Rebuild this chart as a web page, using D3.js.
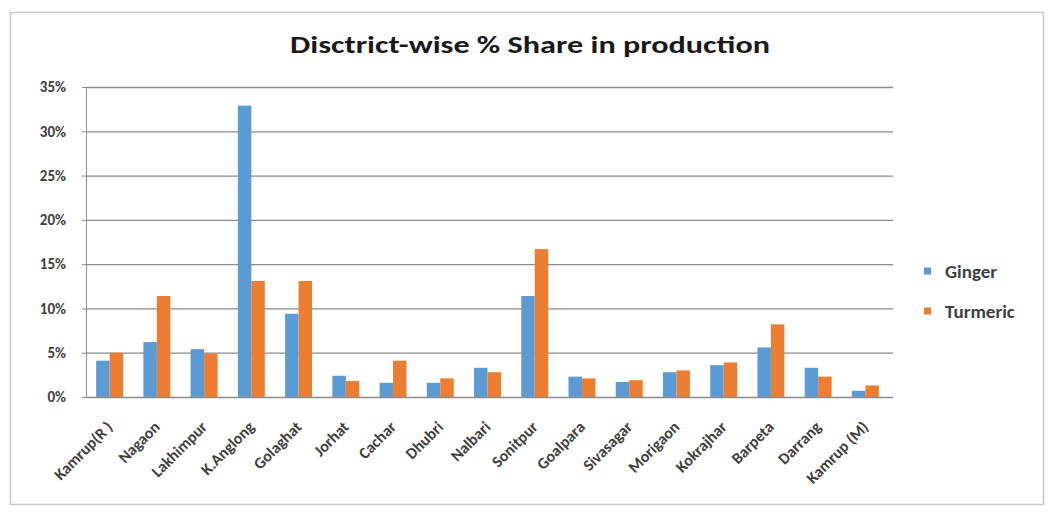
<!DOCTYPE html>
<html><head><meta charset="utf-8">
<script src="https://cdn.jsdelivr.net/npm/d3@7"></script>
<style>body{margin:0;background:#fff}svg{display:block}</style>
</head><body><svg id="c" width="1051" height="512"></svg>
<script>
const categories = ["Kamrup(R )","Nagaon","Lakhimpur","K.Anglong","Golaghat","Jorhat","Cachar","Dhubri","Nalbari","Sonitpur","Goalpara","Sivasagar","Morigaon","Kokrajhar","Barpeta","Darrang","Kamrup (M)"];
const ginger   = [4.1, 6.2, 5.4, 32.9, 9.4, 2.4, 1.6, 1.6, 3.3, 11.4, 2.3, 1.7, 2.8, 3.6, 5.6, 3.3, 0.7];
const turmeric = [5.0, 11.4, 4.9, 13.1, 13.1, 1.8, 4.1, 2.1, 2.8, 16.7, 2.1, 1.9, 3.0, 3.9, 8.2, 2.3, 1.3];
const seriesNames = ["Ginger","Turmeric"];
const colors = ["#5B9BD5","#ED7D31"];
const yTicks = [0,5,10,15,20,25,30,35];
const title = "Disctrict-wise % Share in production";

const svg = d3.select("#c");
const font = "Carlito, Calibri, Lato, sans-serif";
svg.append("rect").attr("x",10.5).attr("y",12.5).attr("width",1033).attr("height",492)
  .attr("fill","#fff").attr("stroke","#c8c8c8").attr("stroke-width",1.5);

const m = {l:86, r:889, t:87, b:397};
const x = d3.scaleBand().domain(categories).range([m.l, m.r]).paddingInner(0.43).paddingOuter(0.215);
const xs = d3.scaleBand().domain(seriesNames).range([0, x.bandwidth()]);
const y = d3.scaleLinear().domain([0,35]).range([m.b, m.t]);

// gridlines
svg.append("g").selectAll("line").data(yTicks.filter(d=>d>0)).join("line")
  .attr("x1",m.l).attr("x2",m.r+4).attr("y1",d=>y(d)+0.5).attr("y2",d=>y(d)+0.5)
  .attr("stroke","#8c8c8c").attr("stroke-width",1.3);

// y axis
const ya = svg.append("g").attr("transform",`translate(${m.l},0)`)
  .call(d3.axisLeft(y).tickValues(yTicks).tickFormat(d=>d+"%").tickSize(4).tickPadding(16));
ya.select(".domain").attr("stroke","#8c8c8c");
ya.selectAll(".tick line").attr("stroke","#8c8c8c");
ya.selectAll("text").attr("font-family",font).attr("font-size",15).attr("font-weight","bold").attr("fill","#404040");

// bars
const data = categories.map((c,i)=>({c, vals:[ginger[i], turmeric[i]]}));
const g = svg.append("g");
g.selectAll("g").data(data).join("g").attr("transform",d=>`translate(${x(d.c)},0)`)
  .selectAll("rect").data(d=>d.vals.map((v,j)=>({v, s:seriesNames[j], j})))
  .join("rect").attr("x",d=>xs(d.s)).attr("width",xs.bandwidth())
  .attr("y",d=>y(d.v)).attr("height",d=>y(0)-y(d.v)).attr("fill",d=>colors[d.j]);

// x axis
const xa = svg.append("g").attr("transform",`translate(0,${m.b})`)
  .call(d3.axisBottom(x).tickSize(0).tickPadding(0));
xa.select(".domain").attr("stroke","#8c8c8c").attr("stroke-width",1.3).attr("d",`M${m.l},0.5H${m.r+4}`);
xa.selectAll("text").attr("font-family",font).attr("font-size",16).attr("font-weight","bold").attr("fill","#404040")
  .attr("text-anchor","end").attr("dy",0)
  .attr("transform","translate(4,31) rotate(-45)");

// title
svg.append("text").attr("x",530).attr("y",53).attr("text-anchor","middle")
  .attr("font-family",font).attr("font-size",25).attr("font-weight","bold").attr("fill","#1a1a1a")
  .attr("textLength",480).attr("lengthAdjust","spacingAndGlyphs").text(title);

// legend
const lg = svg.append("g").selectAll("g").data(seriesNames).join("g")
  .attr("transform",(d,i)=>`translate(924,${271+i*40})`);
lg.append("rect").attr("x",0).attr("y",-3.5).attr("width",7).attr("height",7).attr("fill",(d,i)=>colors[i]);
lg.append("text").attr("x",21).attr("y",6.5).attr("font-family",font).attr("font-size",19).attr("font-weight","bold")
  .attr("fill","#404040").text(d=>d);
</script></body></html>
